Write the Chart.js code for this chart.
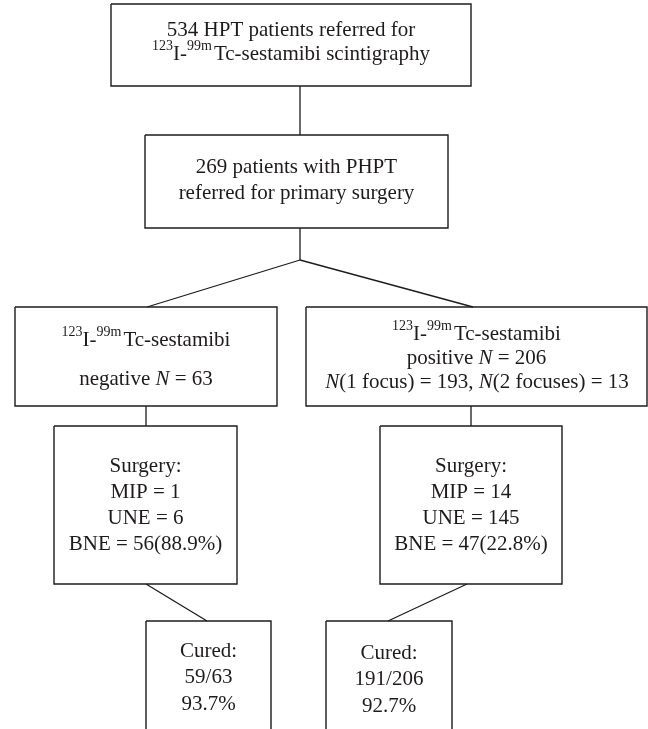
<!DOCTYPE html>
<html>
<head>
<meta charset="utf-8">
<script src="https://cdn.jsdelivr.net/npm/chart.js@4/dist/chart.umd.min.js"></script>
<style>
  html, body { margin: 0; padding: 0; background: #ffffff; overflow: hidden; }
  canvas { display: block; }
</style>
</head>
<body>
<canvas id="c" width="648" height="729"></canvas>
<script>
const referredTotal = 534;
const phptPatients = 269;
const scanGroups = ['negative', 'positive'];
const scanCounts = [63, 206];
const focusCounts = [193, 13];          // N(1 focus), N(2 focuses)
const surgeryTypes = ['MIP', 'UNE', 'BNE'];
const surgeryNegative = [1, 6, 56];
const surgeryPositive = [14, 145, 47];
const bneShare = [88.9, 22.8];
const curedCounts = [59, 191];
const curedShare = [93.7, 92.7];

// ---- layout (coordinate space of the scales: 0..648 x 0..729) ----
const LAYOUT = {
  boxes: [
    { l: 111, r: 471, t: 4,   b: 86 },   // referred
    { l: 145, r: 448, t: 135, b: 228 },  // PHPT
    { l: 15,  r: 277, t: 307, b: 406 },  // negative
    { l: 306, r: 647, t: 307, b: 406 },  // positive
    { l: 54,  r: 237, t: 426, b: 584 },  // surgery neg
    { l: 380, r: 562, t: 426, b: 584 },  // surgery pos
    { l: 146, r: 271, t: 621, b: 740 },  // cured neg
    { l: 326, r: 452, t: 621, b: 740 }   // cured pos
  ],
  connectors: [
    [[300, 86], [300, 135]],
    [[300, 228], [300, 260]],
    [[300, 260], [147, 307]],
    [[300, 260], [473, 307]],
    [[146, 406], [146, 426]],
    [[471, 406], [471, 426]],
    [[146, 584], [207, 621]],
    [[467, 584], [388, 621]]
  ]
};

const INK = '#1f1b1c';
const FONT = '"Liberation Serif", "DejaVu Serif", serif';
const MAIN = 21, SUP = 14, RAISE = 10;

const iso = [{ t: '123', sup: true }, { t: 'I-' }, { t: '99m', sup: true, gap: 2 }, { t: 'Tc-sestamibi' }];
function surgeryLines(cx, vals, share) {
  return [
    { x: cx, y: 472, runs: [{ t: 'Surgery:' }] },
    { x: cx, y: 498, runs: [{ t: surgeryTypes[0] + ' = ' + vals[0] }] },
    { x: cx, y: 524, runs: [{ t: surgeryTypes[1] + ' = ' + vals[1] }] },
    { x: cx, y: 550, runs: [{ t: surgeryTypes[2] + ' = ' + vals[2] + '(' + share.toFixed(1) + '%)' }] }
  ];
}
function curedLines(cx, y0, i) {
  return [
    { x: cx, y: y0, runs: [{ t: 'Cured:' }] },
    { x: cx, y: y0 + 26, runs: [{ t: curedCounts[i] + '/' + scanCounts[i] }] },
    { x: cx, y: y0 + 53, runs: [{ t: curedShare[i].toFixed(1) + '%' }] }
  ];
}

const LABELS = [
  { x: 291, y: 36, runs: [{ t: referredTotal + ' HPT patients referred for' }] },
  { x: 291, y: 60, runs: iso.concat([{ t: ' scintigraphy' }]) },
  { x: 296.5, y: 173, runs: [{ t: phptPatients + ' patients with PHPT' }] },
  { x: 296.5, y: 199, runs: [{ t: 'referred for primary surgery' }] },
  { x: 146, y: 346, runs: iso },
  { x: 146, y: 385, runs: [{ t: scanGroups[0] + ' ' }, { t: 'N', it: true }, { t: ' = ' + scanCounts[0] }] },
  { x: 476.5, y: 340, runs: iso },
  { x: 476.5, y: 364, runs: [{ t: scanGroups[1] + ' ' }, { t: 'N', it: true }, { t: ' = ' + scanCounts[1] }] },
  { x: 477, y: 388, runs: [{ t: 'N', it: true }, { t: '(1 focus) = ' + focusCounts[0] + ', ' }, { t: 'N', it: true }, { t: '(2 focuses) = ' + focusCounts[1] }] }
].concat(surgeryLines(145.5, surgeryNegative, bneShare[0]))
 .concat(surgeryLines(471, surgeryPositive, bneShare[1]))
 .concat(curedLines(208.5, 657, 0))
 .concat(curedLines(389, 659, 1));

// ---- datasets built from the layout ----
const datasets = [];
LAYOUT.boxes.forEach(b => {
  datasets.push({
    data: [{ x: b.l, y: b.t }, { x: b.r, y: b.t }, { x: b.r, y: b.b }, { x: b.l, y: b.b }, { x: b.l, y: b.t }],
    showLine: true, borderColor: INK, borderWidth: 1.4, pointRadius: 0, fill: false, tension: 0
  });
});
LAYOUT.connectors.forEach(c => {
  datasets.push({
    data: c.map(p => ({ x: p[0], y: p[1] })),
    showLine: true, borderColor: INK, borderWidth: 1.3, pointRadius: 0, fill: false, tension: 0
  });
});

function fontFor(r) {
  return (r.it ? 'italic ' : '') + (r.sup ? SUP : MAIN) + 'px ' + FONT;
}

const textPlugin = {
  id: 'flowText',
  afterDraw(chart) {
    const ctx = chart.ctx, xs = chart.scales.x, ys = chart.scales.y;
    ctx.save();
    ctx.fillStyle = INK;
    ctx.textBaseline = 'alphabetic';
    ctx.textAlign = 'left';
    LABELS.forEach(lab => {
      let w = 0;
      lab.runs.forEach(r => { ctx.font = fontFor(r); w += ctx.measureText(r.t).width + (r.gap || 0); });
      let x = xs.getPixelForValue(lab.x) - w / 2;
      const y = ys.getPixelForValue(lab.y);
      lab.runs.forEach(r => {
        ctx.font = fontFor(r);
        ctx.fillText(r.t, x, r.sup ? y - RAISE : y);
        x += ctx.measureText(r.t).width + (r.gap || 0);
      });
    });
    ctx.restore();
  }
};

new Chart(document.getElementById('c'), {
  type: 'scatter',
  data: { datasets },
  options: {
    responsive: false,
    animation: false,
    events: [],
    layout: { padding: 0 },
    plugins: { legend: { display: false }, tooltip: { enabled: false } },
    scales: {
      x: { type: 'linear', min: 0, max: 648, display: false },
      y: { type: 'linear', min: 0, max: 729, reverse: true, display: false }
    }
  },
  plugins: [textPlugin]
});
</script>
</body>
</html>
